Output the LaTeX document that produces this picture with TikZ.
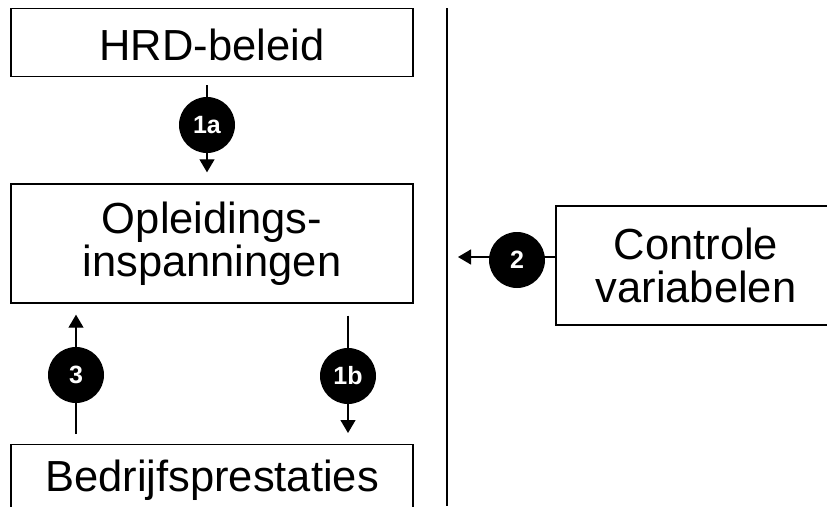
\documentclass[tikz,border=0pt]{standalone}
\usepackage{fontspec}
\setmainfont{Liberation Sans}
\usetikzlibrary{arrows.meta,backgrounds}
\begin{document}
\begin{tikzpicture}[x=1pt,y=-1pt,
  box/.style={draw=black,line width=1.4pt,inner sep=0pt,align=center,
    font=\fontsize{43.5}{43}\selectfont},
  badge/.style={circle,fill=black,minimum size=56pt,inner sep=0pt,text=white,
    font=\fontsize{25}{25}\selectfont\bfseries},
  link/.style={line width=1.3pt,-{Triangle[width=15pt,length=13pt]}}]
\useasboundingbox (0,0) rectangle (827,506);
\node[box,anchor=north,minimum width=402pt,text height=52pt,text depth=16pt] (hrd) at (212,8) {HRD-beleid};
\node[box,minimum width=402pt,minimum height=119pt] (opl) at (212,243.5) {Opleidings-\\inspanningen};
\node[box,anchor=north,minimum width=402pt,text height=47pt,text depth=40pt] (bp) at (212,444) {Bedrijfsprestaties};
\node[box,minimum width=280pt,minimum height=119pt] (cv) at (696,265.5) {Controle\\variabelen};
\coordinate (vt) at (447,8);
\coordinate (vb) at (447,506);
\draw[line width=1.4pt] (vt) -- (vb);
\node[badge] (b1a) at (207,125) {1a};
\node[badge] (b3) at (76,375) {3};
\node[badge] (b1b) at (348,376) {1b};
\node[badge] (b2) at (517,260) {2};
\coordinate (a2) at ([yshift=8.5pt]cv.west);
\begin{scope}[on background layer]
\draw[link,shorten <=8pt,shorten >=11pt] (hrd.south -| b1a) -- (opl.north -| b1a);
\draw[link,shorten <=10pt,shorten >=11pt] (bp.north -| b3) -- (opl.south -| b3);
\draw[link,shorten <=12pt,shorten >=11pt] (opl.south -| b1b) -- (bp.north -| b1b);
\draw[link,shorten >=11pt] (a2) -- (vt |- a2);
\end{scope}
\end{tikzpicture}
\end{document}
